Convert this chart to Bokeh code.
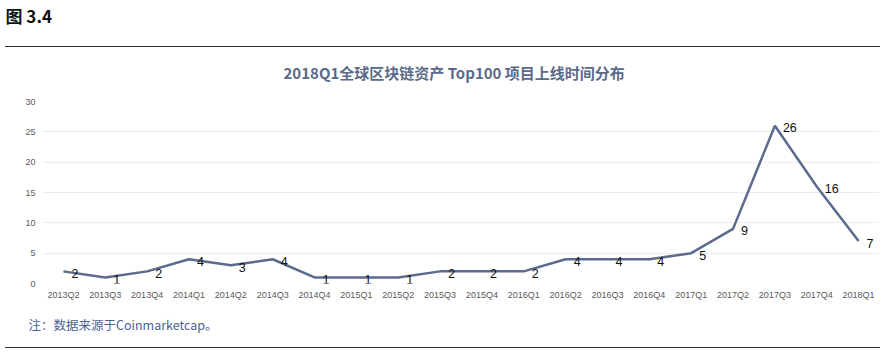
from bokeh.plotting import figure
from bokeh.layouts import column
from bokeh.models import ColumnDataSource, Div, FactorRange, Range1d, FixedTicker
from bokeh.core.properties import value
from bokeh.embed import file_html
from bokeh.resources import INLINE

quarters = ["2013Q2", "2013Q3", "2013Q4", "2014Q1", "2014Q2", "2014Q3", "2014Q4",
            "2015Q1", "2015Q2", "2015Q3", "2015Q4", "2016Q1", "2016Q2", "2016Q3",
            "2016Q4", "2017Q1", "2017Q2", "2017Q3", "2017Q4", "2018Q1"]
counts = [2, 1, 2, 4, 3, 4, 1, 1, 1, 2, 2, 2, 4, 4, 4, 5, 9, 26, 16, 7]
y_ticks = [0, 5, 10, 15, 20, 25, 30]

title_text = "2018Q1全球区块链资产 Top100 项目上线时间分布"
header_text = "图 3.4"
note_text = "注：数据来源于Coinmarketcap。"

LINE = "#5b6b8d"
CJK = "Noto Sans CJK SC"
W = 887
BL, BR = 42, 8   # left / right borders shared by every figure (frames align)


def text_fig(height, text, size, color, bold, offset, top):
    f = figure(width=W, height=height, x_range=Range1d(0, 1), y_range=Range1d(0, 1),
               x_axis_type=None, y_axis_type=None, output_backend="svg",
               toolbar_location=None, min_border_left=BL, min_border_right=BR,
               min_border_top=top, min_border_bottom=0)
    f.outline_line_color = None
    f.xgrid.grid_line_color = None
    f.ygrid.grid_line_color = None
    f.title.text = text
    f.title.align = "left"
    f.title.offset = offset
    f.title.standoff = 0
    f.title.text_font = CJK
    f.title.text_font_size = size
    f.title.text_color = color
    f.title.text_font_style = "bold" if bold else "normal"
    return f


def rule(height):
    return Div(text=('<div style="width:875px;height:0;border-top:1.5px solid #333333;'
                     'margin-left:5px"></div>'),
               width=W, height=height, margin=0)


hdr = text_fig(35, header_text, "17px", "#111111", True, 5 - BL, 6)
ttl = text_fig(30, title_text, "15px", "#5a6a8a", True, 283 - BL, 27)

# ---- main chart
src = ColumnDataSource(dict(q=quarters, c=counts, t=[str(v) for v in counts]))
p = figure(width=W, height=225, x_range=FactorRange(*quarters, range_padding=0),
           y_range=Range1d(0, 30), output_backend="svg", toolbar_location=None,
           min_border_left=BL, min_border_right=BR, min_border_top=16, min_border_bottom=27)
p.outline_line_color = None

p.line("q", "c", source=src, line_color=LINE, line_width=2.5)
p.text("q", "c", text="t", source=src, x_offset=8, y_offset=2,
       text_align="left", text_baseline="middle", text_font_size="12.5px",
       text_color="#111111", text_font=value("Liberation Sans"))

p.xgrid.grid_line_color = None
p.ygrid.grid_line_color = "#ececec"
p.yaxis.ticker = FixedTicker(ticks=y_ticks)
for ax in (p.xaxis[0], p.yaxis[0]):
    ax.axis_line_color = None
    ax.major_tick_line_color = None
    ax.minor_tick_line_color = None
    ax.major_label_text_font = "Liberation Sans"
    ax.major_label_text_font_size = "9px"
    ax.major_label_text_color = "#595959"
p.xaxis.major_label_standoff = 0
p.yaxis.major_label_standoff = 1

note = text_fig(26, note_text, "12.5px", "#4e5f92", False, 28 - BL, 23)

layout = column(hdr, rule(20), ttl, p, note, rule(14), spacing=0)
open("out.html", "w").write(file_html(layout, INLINE))
